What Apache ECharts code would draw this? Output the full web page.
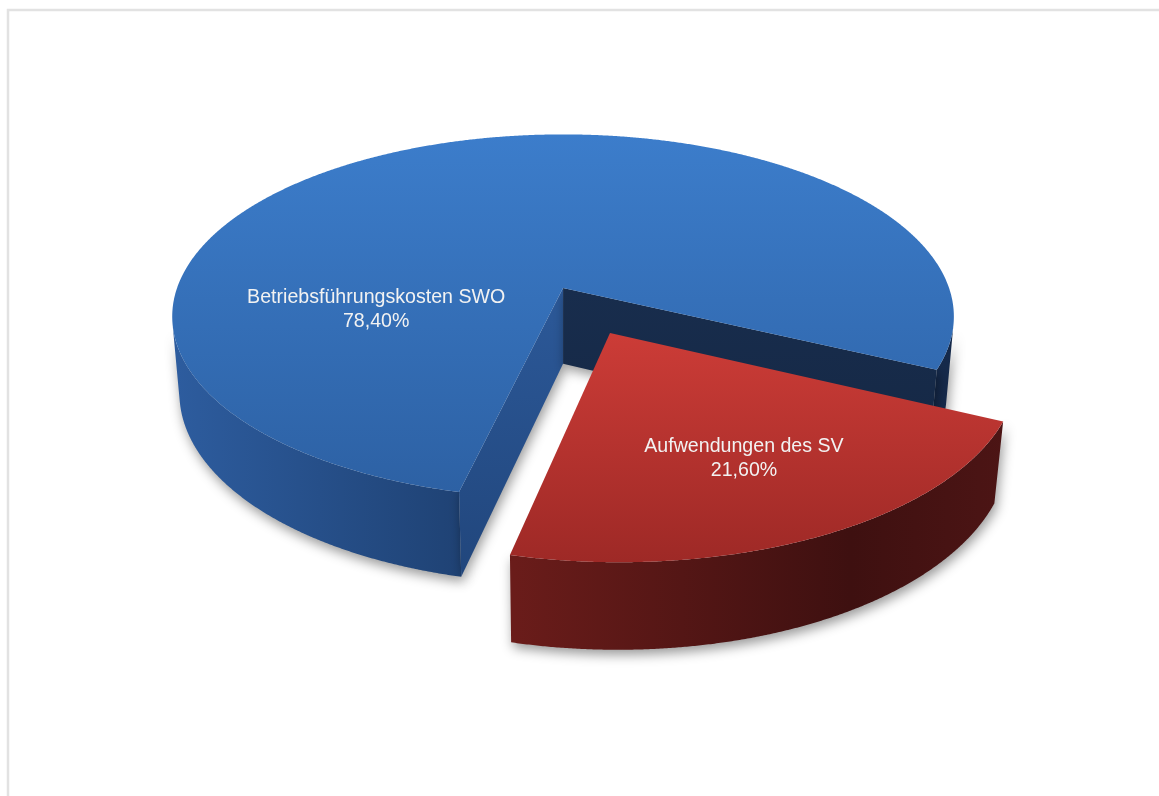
<!DOCTYPE html>
<html>
<head>
<meta charset="utf-8">
<script src="https://cdn.jsdelivr.net/npm/echarts@6/dist/echarts.min.js"></script>
<style>
  html, body { margin: 0; padding: 0; background: #ffffff; }
  #chart { width: 1159px; height: 796px; }
</style>
</head>
<body>
<div id="chart"></div>
<script>
// Cost shares (percent)
const categories = ['Betriebsführungskosten SWO', 'Aufwendungen des SV'];
const shares = [78.4, 21.6];
const pulledOut = [false, true];

// Perspective view of the 3D pie (world radius = 1)
const VIEW = {
  cx: 0.4858, cy: 0.3618,   // projected pie centre, fraction of canvas
  tilt: 27.4,               // camera elevation in degrees
  dist: 5.67,               // camera distance in radii
  scale: 386,               // pixels per radius at the centre depth
  thickness: 0.225,         // pie height in radii
  start: 103.2,             // first slice starts here (deg, clockwise from right)
  explode: 0.27             // pull-out distance in radii
};

// Label anchors inside each slice: polar position on the top face
const LABEL_AT = [{ angle: 165.8, r: 0.49 }, { angle: 63.9, r: 0.66 }];

const TOP_FILL = [['#3c7dcb', '#2d61a4'], ['#cc3c37', '#9e2926']];
const WALL_FILL = [
  [[0, '#2d5c9e'], [0.37, '#1f4274'], [0.8, '#172e52'], [1, '#15294a']],
  [[0, '#6b1d1b'], [0.38, '#6a1c1a'], [0.8, '#3e1010'], [1, '#4d1515']]
];
const START_FACE = [['#2c5999', '#21467c'], ['#6b1d1b', '#4a1414']];
const END_FACE = [['#182d4d', '#152845'], ['#5a1817', '#451212']];

const fmtPct = v => v.toFixed(2).replace('.', ',') + '%';

const chart = echarts.init(document.getElementById('chart'), null, { renderer: 'canvas' });

function renderSlice(params, api) {
  const i = params.dataIndex;
  const W = api.getWidth(), H = api.getHeight();
  const cx = W * VIEW.cx, cy = H * VIEW.cy;
  const a = VIEW.tilt * Math.PI / 180, sa = Math.sin(a), ca = Math.cos(a);
  const D = VIEW.dist, F = VIEW.scale * D, T = VIEW.thickness;
  const deg = Math.PI / 180;

  const total = shares.reduce((s, v) => s + v, 0);
  let before = 0;
  for (let j = 0; j < i; j++) before += shares[j];
  const value = api.value(0);
  const t0 = (VIEW.start + before / total * 360) * deg;
  const t1 = (VIEW.start + (before + value) / total * 360) * deg;
  const mid = (t0 + t1) / 2;
  const off = pulledOut[i] ? VIEW.explode : 0;
  const ox = off * Math.cos(mid), oy = off * Math.sin(mid);

  const P = (x, y, z) => {
    const d = D - y * ca - z * sa;
    return [cx + F * x / d, cy + F * (y * sa - z * ca) / d];
  };
  const rim = (t, z) => P(ox + Math.cos(t), oy + Math.sin(t), z);
  const camY = D * ca;
  const wallVisible = t => camY * Math.sin(t) - (ox * Math.cos(t) + oy * Math.sin(t)) - 1 > 0;

  const shadow = { shadowBlur: 12, shadowColor: 'rgba(0,0,0,0.4)', shadowOffsetX: 2, shadowOffsetY: 5 };
  const children = [];
  const xl = P(ox - 1, oy, 0)[0], xr = P(ox + 1, oy, 0)[0];

  // outer wall: only the runs that face the camera
  const step = 0.25 * deg;
  const n = Math.max(2, Math.ceil((t1 - t0) / step));
  let run = null;
  const runs = [];
  for (let k = 0; k < n; k++) {
    const ta = t0 + (t1 - t0) * k / n, tb = t0 + (t1 - t0) * (k + 1) / n;
    if (wallVisible((ta + tb) / 2)) {
      if (!run) { run = [ta, tb]; runs.push(run); } else run[1] = tb;
    } else run = null;
  }
  runs.forEach(([ra, rb]) => {
    const m = Math.max(2, Math.ceil((rb - ra) / step));
    const top = [], bot = [];
    for (let k = 0; k <= m; k++) {
      const t = ra + (rb - ra) * k / m;
      top.push(rim(t, 0));
      bot.push(rim(t, -T));
    }
    children.push({
      type: 'polygon',
      shape: { points: top.concat(bot.reverse()) },
      style: Object.assign({
        fill: new echarts.graphic.LinearGradient(xl, 0, xr, 0,
          WALL_FILL[i].map(([o, c]) => ({ offset: o, color: c })), true)
      }, shadow)
    });
  });

  // radial cut faces, drawn when they face the camera
  const cTop = P(ox, oy, 0), cBot = P(ox, oy, -T);
  const startVis = -ox * Math.sin(t0) - (camY - oy) * Math.cos(t0) > 0;
  const endVis = ox * Math.sin(t1) + (camY - oy) * Math.cos(t1) > 0;
  const face = (t, cols) => ({
    type: 'polygon',
    shape: { points: [cTop, rim(t, 0), rim(t, -T), cBot] },
    style: Object.assign({
      fill: new echarts.graphic.LinearGradient(0, 0, 0, 1,
        [{ offset: 0, color: cols[0] }, { offset: 1, color: cols[1] }])
    }, shadow)
  });
  if (startVis) children.push(face(t0, START_FACE[i]));
  if (endVis) children.push(face(t1, END_FACE[i]));

  // top face
  const m = Math.max(2, Math.ceil((t1 - t0) / step));
  const pts = [cTop];
  for (let k = 0; k <= m; k++) pts.push(rim(t0 + (t1 - t0) * k / m, 0));
  children.push({
    type: 'polygon',
    shape: { points: pts },
    style: {
      fill: new echarts.graphic.LinearGradient(0, 0, 0, 1,
        [{ offset: 0, color: TOP_FILL[i][0] }, { offset: 1, color: TOP_FILL[i][1] }])
    }
  });

  // data label
  const la = LABEL_AT[i];
  const lp = P(ox + la.r * Math.cos(la.angle * deg), oy + la.r * Math.sin(la.angle * deg), 0);
  children.push({
    type: 'text',
    style: {
      text: categories[i] + '\n' + fmtPct(value),
      x: lp[0], y: lp[1],
      fill: '#f2f2f2',
      fontSize: 19.6,
      fontFamily: '"Liberation Sans", Arial, sans-serif',
      lineHeight: 24,
      align: 'center',
      verticalAlign: 'middle'
    }
  });

  return { type: 'group', children };
}

chart.setOption({
  animation: false,
  backgroundColor: '#ffffff',
  graphic: [{
    type: 'rect',
    silent: true,
    z: -10,
    shape: { x: 8, y: 10, width: 1300, height: 900 },
    style: { fill: 'transparent', stroke: '#e2e2e2', lineWidth: 2.5 }
  }],
  series: [{
    type: 'custom',
    coordinateSystem: 'none',
    silent: true,
    renderItem: renderSlice,
    data: shares.map((v, i) => ({ name: categories[i], value: [v] }))
  }]
});
</script>
</body>
</html>
